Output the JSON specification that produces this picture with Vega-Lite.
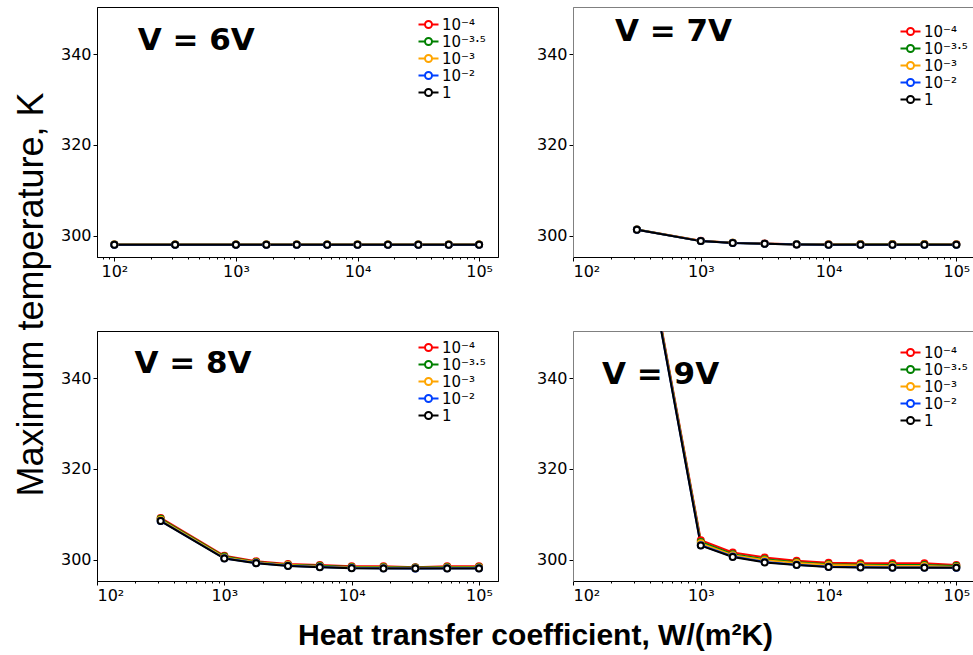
{
  "$schema": "https://vega.github.io/schema/vega-lite/v6.json",
  "padding": {"left": 12, "top": 6, "right": 0, "bottom": 0},
  "bounds": "flush",
  "columns": 2,
  "spacing": {"row": 74, "column": 75},
  "datasets": {
    "lab": [
      {"p": 6, "h": 472, "T": 342.8, "t": "V = 6V"},
      {"p": 7, "h": 612, "T": 344.8, "t": "V = 7V"},
      {"p": 8, "h": 568, "T": 343.2, "t": "V = 8V"},
      {"p": 9, "h": 485, "T": 340.7, "t": "V = 9V"}
    ],
    "d": [
      {"p":6,"s":"10⁻⁴","h":100,"T":298.05},{"p":6,"s":"10⁻⁴","h":316.2,"T":298.05},{"p":6,"s":"10⁻⁴","h":1000,"T":298.05},{"p":6,"s":"10⁻⁴","h":1778,"T":298.05},{"p":6,"s":"10⁻⁴","h":3162,"T":298.05},{"p":6,"s":"10⁻⁴","h":5623,"T":298.05},{"p":6,"s":"10⁻⁴","h":10000,"T":298.05},{"p":6,"s":"10⁻⁴","h":17783,"T":298.05},{"p":6,"s":"10⁻⁴","h":31623,"T":298.05},{"p":6,"s":"10⁻⁴","h":56234,"T":298.05},{"p":6,"s":"10⁻⁴","h":100000,"T":298.05},
      {"p":6,"s":"10⁻³·⁵","h":100,"T":298.04},{"p":6,"s":"10⁻³·⁵","h":316.2,"T":298.04},{"p":6,"s":"10⁻³·⁵","h":1000,"T":298.04},{"p":6,"s":"10⁻³·⁵","h":1778,"T":298.04},{"p":6,"s":"10⁻³·⁵","h":3162,"T":298.04},{"p":6,"s":"10⁻³·⁵","h":5623,"T":298.04},{"p":6,"s":"10⁻³·⁵","h":10000,"T":298.04},{"p":6,"s":"10⁻³·⁵","h":17783,"T":298.04},{"p":6,"s":"10⁻³·⁵","h":31623,"T":298.04},{"p":6,"s":"10⁻³·⁵","h":56234,"T":298.04},{"p":6,"s":"10⁻³·⁵","h":100000,"T":298.04},
      {"p":6,"s":"10⁻³","h":100,"T":298.03},{"p":6,"s":"10⁻³","h":316.2,"T":298.03},{"p":6,"s":"10⁻³","h":1000,"T":298.03},{"p":6,"s":"10⁻³","h":1778,"T":298.03},{"p":6,"s":"10⁻³","h":3162,"T":298.03},{"p":6,"s":"10⁻³","h":5623,"T":298.03},{"p":6,"s":"10⁻³","h":10000,"T":298.03},{"p":6,"s":"10⁻³","h":17783,"T":298.03},{"p":6,"s":"10⁻³","h":31623,"T":298.03},{"p":6,"s":"10⁻³","h":56234,"T":298.03},{"p":6,"s":"10⁻³","h":100000,"T":298.03},
      {"p":6,"s":"10⁻²","h":100,"T":298.01},{"p":6,"s":"10⁻²","h":316.2,"T":298.01},{"p":6,"s":"10⁻²","h":1000,"T":298.01},{"p":6,"s":"10⁻²","h":1778,"T":298.01},{"p":6,"s":"10⁻²","h":3162,"T":298.01},{"p":6,"s":"10⁻²","h":5623,"T":298.01},{"p":6,"s":"10⁻²","h":10000,"T":298.01},{"p":6,"s":"10⁻²","h":17783,"T":298.01},{"p":6,"s":"10⁻²","h":31623,"T":298.01},{"p":6,"s":"10⁻²","h":56234,"T":298.01},{"p":6,"s":"10⁻²","h":100000,"T":298.01},
      {"p":6,"s":"1","h":100,"T":298.0},{"p":6,"s":"1","h":316.2,"T":298.0},{"p":6,"s":"1","h":1000,"T":298.0},{"p":6,"s":"1","h":1778,"T":298.0},{"p":6,"s":"1","h":3162,"T":298.0},{"p":6,"s":"1","h":5623,"T":298.0},{"p":6,"s":"1","h":10000,"T":298.0},{"p":6,"s":"1","h":17783,"T":298.0},{"p":6,"s":"1","h":31623,"T":298.0},{"p":6,"s":"1","h":56234,"T":298.0},{"p":6,"s":"1","h":100000,"T":298.0},

      {"p":7,"s":"10⁻⁴","h":316.2,"T":301.36},{"p":7,"s":"10⁻⁴","h":1000,"T":298.86},{"p":7,"s":"10⁻⁴","h":1778,"T":298.46},{"p":7,"s":"10⁻⁴","h":3162,"T":298.26},{"p":7,"s":"10⁻⁴","h":5623,"T":298.11},{"p":7,"s":"10⁻⁴","h":10000,"T":298.1},{"p":7,"s":"10⁻⁴","h":17783,"T":298.16},{"p":7,"s":"10⁻⁴","h":31623,"T":298.16},{"p":7,"s":"10⁻⁴","h":56234,"T":298.16},{"p":7,"s":"10⁻⁴","h":100000,"T":298.1},
      {"p":7,"s":"10⁻³·⁵","h":316.2,"T":301.34},{"p":7,"s":"10⁻³·⁵","h":1000,"T":298.84},{"p":7,"s":"10⁻³·⁵","h":1778,"T":298.44},{"p":7,"s":"10⁻³·⁵","h":3162,"T":298.24},{"p":7,"s":"10⁻³·⁵","h":5623,"T":298.09},{"p":7,"s":"10⁻³·⁵","h":10000,"T":298.06},{"p":7,"s":"10⁻³·⁵","h":17783,"T":298.1},{"p":7,"s":"10⁻³·⁵","h":31623,"T":298.1},{"p":7,"s":"10⁻³·⁵","h":56234,"T":298.1},{"p":7,"s":"10⁻³·⁵","h":100000,"T":298.07},
      {"p":7,"s":"10⁻³","h":316.2,"T":301.32},{"p":7,"s":"10⁻³","h":1000,"T":298.82},{"p":7,"s":"10⁻³","h":1778,"T":298.42},{"p":7,"s":"10⁻³","h":3162,"T":298.22},{"p":7,"s":"10⁻³","h":5623,"T":298.07},{"p":7,"s":"10⁻³","h":10000,"T":298.03},{"p":7,"s":"10⁻³","h":17783,"T":298.06},{"p":7,"s":"10⁻³","h":31623,"T":298.06},{"p":7,"s":"10⁻³","h":56234,"T":298.06},{"p":7,"s":"10⁻³","h":100000,"T":298.04},
      {"p":7,"s":"10⁻²","h":316.2,"T":301.3},{"p":7,"s":"10⁻²","h":1000,"T":298.8},{"p":7,"s":"10⁻²","h":1778,"T":298.4},{"p":7,"s":"10⁻²","h":3162,"T":298.2},{"p":7,"s":"10⁻²","h":5623,"T":298.05},{"p":7,"s":"10⁻²","h":10000,"T":298.0},{"p":7,"s":"10⁻²","h":17783,"T":298.0},{"p":7,"s":"10⁻²","h":31623,"T":298.0},{"p":7,"s":"10⁻²","h":56234,"T":298.0},{"p":7,"s":"10⁻²","h":100000,"T":298.0},
      {"p":7,"s":"1","h":316.2,"T":301.3},{"p":7,"s":"1","h":1000,"T":298.8},{"p":7,"s":"1","h":1778,"T":298.4},{"p":7,"s":"1","h":3162,"T":298.2},{"p":7,"s":"1","h":5623,"T":298.05},{"p":7,"s":"1","h":10000,"T":298.0},{"p":7,"s":"1","h":17783,"T":298.0},{"p":7,"s":"1","h":31623,"T":298.0},{"p":7,"s":"1","h":56234,"T":298.0},{"p":7,"s":"1","h":100000,"T":298.0},

      {"p":8,"s":"10⁻⁴","h":316.2,"T":309.2},{"p":8,"s":"10⁻⁴","h":1000,"T":300.85},{"p":8,"s":"10⁻⁴","h":1778,"T":299.65},{"p":8,"s":"10⁻⁴","h":3162,"T":299.05},{"p":8,"s":"10⁻⁴","h":5623,"T":298.8},{"p":8,"s":"10⁻⁴","h":10000,"T":298.55},{"p":8,"s":"10⁻⁴","h":17783,"T":298.55},{"p":8,"s":"10⁻⁴","h":31623,"T":298.35},{"p":8,"s":"10⁻⁴","h":56234,"T":298.55},{"p":8,"s":"10⁻⁴","h":100000,"T":298.55},
      {"p":8,"s":"10⁻³·⁵","h":316.2,"T":309.0},{"p":8,"s":"10⁻³·⁵","h":1000,"T":300.7},{"p":8,"s":"10⁻³·⁵","h":1778,"T":299.5},{"p":8,"s":"10⁻³·⁵","h":3162,"T":298.9},{"p":8,"s":"10⁻³·⁵","h":5623,"T":298.65},{"p":8,"s":"10⁻³·⁵","h":10000,"T":298.4},{"p":8,"s":"10⁻³·⁵","h":17783,"T":298.4},{"p":8,"s":"10⁻³·⁵","h":31623,"T":298.25},{"p":8,"s":"10⁻³·⁵","h":56234,"T":298.4},{"p":8,"s":"10⁻³·⁵","h":100000,"T":298.4},
      {"p":8,"s":"10⁻³","h":316.2,"T":308.8},{"p":8,"s":"10⁻³","h":1000,"T":300.5},{"p":8,"s":"10⁻³","h":1778,"T":299.4},{"p":8,"s":"10⁻³","h":3162,"T":298.8},{"p":8,"s":"10⁻³","h":5623,"T":298.5},{"p":8,"s":"10⁻³","h":10000,"T":298.3},{"p":8,"s":"10⁻³","h":17783,"T":298.25},{"p":8,"s":"10⁻³","h":31623,"T":298.15},{"p":8,"s":"10⁻³","h":56234,"T":298.25},{"p":8,"s":"10⁻³","h":100000,"T":298.25},
      {"p":8,"s":"10⁻²","h":316.2,"T":308.55},{"p":8,"s":"10⁻²","h":1000,"T":300.3},{"p":8,"s":"10⁻²","h":1778,"T":299.25},{"p":8,"s":"10⁻²","h":3162,"T":298.65},{"p":8,"s":"10⁻²","h":5623,"T":298.4},{"p":8,"s":"10⁻²","h":10000,"T":298.15},{"p":8,"s":"10⁻²","h":17783,"T":298.1},{"p":8,"s":"10⁻²","h":31623,"T":298.05},{"p":8,"s":"10⁻²","h":56234,"T":298.1},{"p":8,"s":"10⁻²","h":100000,"T":298.1},
      {"p":8,"s":"1","h":316.2,"T":308.5},{"p":8,"s":"1","h":1000,"T":300.26},{"p":8,"s":"1","h":1778,"T":299.2},{"p":8,"s":"1","h":3162,"T":298.6},{"p":8,"s":"1","h":5623,"T":298.35},{"p":8,"s":"1","h":10000,"T":298.1},{"p":8,"s":"1","h":17783,"T":298.05},{"p":8,"s":"1","h":31623,"T":298.05},{"p":8,"s":"1","h":56234,"T":298.05},{"p":8,"s":"1","h":100000,"T":298.05},

      {"p":9,"s":"10⁻⁴","h":316.2,"T":380.5},{"p":9,"s":"10⁻⁴","h":1000,"T":304.3},{"p":9,"s":"10⁻⁴","h":1778,"T":301.6},{"p":9,"s":"10⁻⁴","h":3162,"T":300.5},{"p":9,"s":"10⁻⁴","h":5623,"T":299.75},{"p":9,"s":"10⁻⁴","h":10000,"T":299.3},{"p":9,"s":"10⁻⁴","h":17783,"T":299.2},{"p":9,"s":"10⁻⁴","h":31623,"T":299.2},{"p":9,"s":"10⁻⁴","h":56234,"T":299.2},{"p":9,"s":"10⁻⁴","h":100000,"T":298.85},
      {"p":9,"s":"10⁻³·⁵","h":316.2,"T":380.2},{"p":9,"s":"10⁻³·⁵","h":1000,"T":303.9},{"p":9,"s":"10⁻³·⁵","h":1778,"T":301.2},{"p":9,"s":"10⁻³·⁵","h":3162,"T":300.1},{"p":9,"s":"10⁻³·⁵","h":5623,"T":299.45},{"p":9,"s":"10⁻³·⁵","h":10000,"T":299.0},{"p":9,"s":"10⁻³·⁵","h":17783,"T":298.9},{"p":9,"s":"10⁻³·⁵","h":31623,"T":298.85},{"p":9,"s":"10⁻³·⁵","h":56234,"T":298.85},{"p":9,"s":"10⁻³·⁵","h":100000,"T":298.6},
      {"p":9,"s":"10⁻³","h":316.2,"T":380.0},{"p":9,"s":"10⁻³","h":1000,"T":303.6},{"p":9,"s":"10⁻³","h":1778,"T":301.0},{"p":9,"s":"10⁻³","h":3162,"T":299.9},{"p":9,"s":"10⁻³","h":5623,"T":299.25},{"p":9,"s":"10⁻³","h":10000,"T":298.8},{"p":9,"s":"10⁻³","h":17783,"T":298.7},{"p":9,"s":"10⁻³","h":31623,"T":298.6},{"p":9,"s":"10⁻³","h":56234,"T":298.6},{"p":9,"s":"10⁻³","h":100000,"T":298.4},
      {"p":9,"s":"10⁻²","h":316.2,"T":379.7},{"p":9,"s":"10⁻²","h":1000,"T":303.2},{"p":9,"s":"10⁻²","h":1778,"T":300.7},{"p":9,"s":"10⁻²","h":3162,"T":299.5},{"p":9,"s":"10⁻²","h":5623,"T":298.9},{"p":9,"s":"10⁻²","h":10000,"T":298.45},{"p":9,"s":"10⁻²","h":17783,"T":298.35},{"p":9,"s":"10⁻²","h":31623,"T":298.25},{"p":9,"s":"10⁻²","h":56234,"T":298.25},{"p":9,"s":"10⁻²","h":100000,"T":298.2},
      {"p":9,"s":"1","h":316.2,"T":379.6},{"p":9,"s":"1","h":1000,"T":303.1},{"p":9,"s":"1","h":1778,"T":300.6},{"p":9,"s":"1","h":3162,"T":299.4},{"p":9,"s":"1","h":5623,"T":298.85},{"p":9,"s":"1","h":10000,"T":298.4},{"p":9,"s":"1","h":17783,"T":298.3},{"p":9,"s":"1","h":31623,"T":298.2},{"p":9,"s":"1","h":56234,"T":298.2},{"p":9,"s":"1","h":100000,"T":298.2}
    ]
  },
  "concat": [
    {
      "width": 401, "height": 250,
      "view": {"stroke": "black"},
      "encoding": {
        "y": {"field": "T", "type": "quantitative", "scale": {"domain": [295.3, 350.4], "zero": false, "nice": false},
          "axis": {"values": [300, 320, 340], "title": "Maximum temperature, K", "titleX": -55, "titleY": 287, "titleAngle": 270, "titleAlign": "center", "titleBaseline": "alphabetic", "titleFont": "Liberation Sans", "titleFontSize": 36, "titleFontWeight": "normal", "titleColor": "black"}}
      },
      "layer": [
        {"data": {"name": "d"}, "transform": [{"filter": "datum.p == 6"}],
         "mark": {"type": "line", "clip": true, "strokeWidth": 2},
         "encoding": {
           "x": {"field": "h", "type": "quantitative", "scale": {"type": "log", "domain": [72, 143000], "nice": false},
             "axis": {"orient": "bottom", "values": [100, 1000, 10000, 100000], "labelExpr": "datum.value == 100 ? '10²' : datum.value == 1000 ? '10³' : datum.value == 10000 ? '10⁴' : '10⁵'", "title": null}},
           "color": {"field": "s", "type": "nominal", "scale": {"domain": ["10⁻⁴", "10⁻³·⁵", "10⁻³", "10⁻²", "1"], "range": ["#ff0000", "#008000", "#ffa500", "#0040ff", "#000000"]},
             "legend": {"orient": "none", "legendX": 324, "legendY": 10}}
         }},
        {"data": {"name": "d"}, "transform": [{"filter": "datum.p == 6"}],
         "mark": {"type": "point", "clip": true, "filled": false, "fill": "white", "size": 36, "strokeWidth": 2, "opacity": 1},
         "encoding": {
           "x": {"field": "h", "type": "quantitative", "scale": {"type": "log", "domain": [72, 143000], "nice": false},
             "axis": {"orient": "bottom", "values": [80, 90, 200, 300, 400, 500, 600, 700, 800, 900, 2000, 3000, 4000, 5000, 6000, 7000, 8000, 9000, 20000, 30000, 40000, 50000, 60000, 70000, 80000, 90000], "labels": false, "domain": false, "tickSize": 2, "title": null}},
           "color": {"field": "s", "type": "nominal", "scale": {"domain": ["10⁻⁴", "10⁻³·⁵", "10⁻³", "10⁻²", "1"], "range": ["#ff0000", "#008000", "#ffa500", "#0040ff", "#000000"]},
             "legend": {"orient": "none", "legendX": 324, "legendY": 10}}
         }},
        {"data": {"name": "lab"}, "transform": [{"filter": "datum.p == 6"}],
         "mark": {"type": "text", "font": "DejaVu Sans", "fontSize": 31, "fontWeight": "bold", "baseline": "middle", "align": "center", "color": "black"},
         "encoding": {
           "x": {"field": "h", "type": "quantitative", "scale": {"type": "log", "domain": [72, 143000], "nice": false}, "axis": null},
           "text": {"field": "t"}
         }}
      ],
      "resolve": {"axis": {"x": "independent"}}
    },
    {
      "width": 400, "height": 250,
      "view": {"stroke": "#808080"},
      "encoding": {
        "y": {"field": "T", "type": "quantitative", "scale": {"domain": [295.3, 350.4], "zero": false, "nice": false},
          "axis": {"values": [300, 320, 340], "title": null, "domainColor": "#808080"}}
      },
      "layer": [
        {"data": {"name": "d"}, "transform": [{"filter": "datum.p == 7"}],
         "mark": {"type": "line", "clip": true, "strokeWidth": 2},
         "encoding": {
           "x": {"field": "h", "type": "quantitative", "scale": {"type": "log", "domain": [100, 135000], "nice": false},
             "axis": {"orient": "bottom", "values": [100, 1000, 10000, 100000], "labelExpr": "datum.value == 100 ? '10²' : datum.value == 1000 ? '10³' : datum.value == 10000 ? '10⁴' : '10⁵'", "title": null}},
           "color": {"field": "s", "type": "nominal", "scale": {"domain": ["10⁻⁴", "10⁻³·⁵", "10⁻³", "10⁻²", "1"], "range": ["#ff0000", "#008000", "#ffa500", "#0040ff", "#000000"]},
             "legend": {"orient": "none", "legendX": 330, "legendY": 17}}
         }},
        {"data": {"name": "d"}, "transform": [{"filter": "datum.p == 7"}],
         "mark": {"type": "point", "clip": true, "filled": false, "fill": "white", "size": 36, "strokeWidth": 2, "opacity": 1},
         "encoding": {
           "x": {"field": "h", "type": "quantitative", "scale": {"type": "log", "domain": [100, 135000], "nice": false},
             "axis": {"orient": "bottom", "values": [200, 300, 400, 500, 600, 700, 800, 900, 2000, 3000, 4000, 5000, 6000, 7000, 8000, 9000, 20000, 30000, 40000, 50000, 60000, 70000, 80000, 90000], "labels": false, "domain": false, "tickSize": 2, "title": null}},
           "color": {"field": "s", "type": "nominal", "scale": {"domain": ["10⁻⁴", "10⁻³·⁵", "10⁻³", "10⁻²", "1"], "range": ["#ff0000", "#008000", "#ffa500", "#0040ff", "#000000"]},
             "legend": {"orient": "none", "legendX": 330, "legendY": 17}}
         }},
        {"data": {"name": "lab"}, "transform": [{"filter": "datum.p == 7"}],
         "mark": {"type": "text", "font": "DejaVu Sans", "fontSize": 31, "fontWeight": "bold", "baseline": "middle", "align": "center", "color": "black"},
         "encoding": {
           "x": {"field": "h", "type": "quantitative", "scale": {"type": "log", "domain": [100, 135000], "nice": false}, "axis": null},
           "text": {"field": "t"}
         }}
      ],
      "resolve": {"axis": {"x": "independent"}}
    },
    {
      "width": 401, "height": 250,
      "view": {"stroke": "black"},
      "encoding": {
        "y": {"field": "T", "type": "quantitative", "scale": {"domain": [295.3, 350.4], "zero": false, "nice": false},
          "axis": {"values": [300, 320, 340], "title": null}}
      },
      "layer": [
        {"data": {"name": "d"}, "transform": [{"filter": "datum.p == 8"}],
         "mark": {"type": "line", "clip": true, "strokeWidth": 2},
         "encoding": {
           "x": {"field": "h", "type": "quantitative", "scale": {"type": "log", "domain": [100, 141000], "nice": false},
             "axis": {"orient": "bottom", "values": [100, 1000, 10000, 100000], "labelExpr": "datum.value == 100 ? '10²' : datum.value == 1000 ? '10³' : datum.value == 10000 ? '10⁴' : '10⁵'",
               "title": "Heat transfer coefficient, W/(m²K)", "titleX": 438, "titleY": 63, "titleAlign": "center", "titleBaseline": "alphabetic", "titleFont": "Liberation Sans", "titleFontSize": 30, "titleFontWeight": "bold", "titleColor": "black"}},
           "color": {"field": "s", "type": "nominal", "scale": {"domain": ["10⁻⁴", "10⁻³·⁵", "10⁻³", "10⁻²", "1"], "range": ["#ff0000", "#008000", "#ffa500", "#0040ff", "#000000"]},
             "legend": {"orient": "none", "legendX": 324, "legendY": 9}}
         }},
        {"data": {"name": "d"}, "transform": [{"filter": "datum.p == 8"}],
         "mark": {"type": "point", "clip": true, "filled": false, "fill": "white", "size": 36, "strokeWidth": 2, "opacity": 1},
         "encoding": {
           "x": {"field": "h", "type": "quantitative", "scale": {"type": "log", "domain": [100, 141000], "nice": false},
             "axis": {"orient": "bottom", "values": [200, 300, 400, 500, 600, 700, 800, 900, 2000, 3000, 4000, 5000, 6000, 7000, 8000, 9000, 20000, 30000, 40000, 50000, 60000, 70000, 80000, 90000], "labels": false, "domain": false, "tickSize": 2, "title": null}},
           "color": {"field": "s", "type": "nominal", "scale": {"domain": ["10⁻⁴", "10⁻³·⁵", "10⁻³", "10⁻²", "1"], "range": ["#ff0000", "#008000", "#ffa500", "#0040ff", "#000000"]},
             "legend": {"orient": "none", "legendX": 324, "legendY": 9}}
         }},
        {"data": {"name": "lab"}, "transform": [{"filter": "datum.p == 8"}],
         "mark": {"type": "text", "font": "DejaVu Sans", "fontSize": 31, "fontWeight": "bold", "baseline": "middle", "align": "center", "color": "black"},
         "encoding": {
           "x": {"field": "h", "type": "quantitative", "scale": {"type": "log", "domain": [100, 141000], "nice": false}, "axis": null},
           "text": {"field": "t"}
         }}
      ],
      "resolve": {"axis": {"x": "independent"}}
    },
    {
      "width": 400, "height": 250,
      "view": {"stroke": "#808080"},
      "encoding": {
        "y": {"field": "T", "type": "quantitative", "scale": {"domain": [295.3, 350.4], "zero": false, "nice": false},
          "axis": {"values": [300, 320, 340], "title": null, "domainColor": "#808080"}}
      },
      "layer": [
        {"data": {"name": "d"}, "transform": [{"filter": "datum.p == 9"}],
         "mark": {"type": "line", "clip": true, "strokeWidth": 2},
         "encoding": {
           "x": {"field": "h", "type": "quantitative", "scale": {"type": "log", "domain": [100, 135000], "nice": false},
             "axis": {"orient": "bottom", "values": [100, 1000, 10000, 100000], "labelExpr": "datum.value == 100 ? '10²' : datum.value == 1000 ? '10³' : datum.value == 10000 ? '10⁴' : '10⁵'", "title": null}},
           "color": {"field": "s", "type": "nominal", "scale": {"domain": ["10⁻⁴", "10⁻³·⁵", "10⁻³", "10⁻²", "1"], "range": ["#ff0000", "#008000", "#ffa500", "#0040ff", "#000000"]},
             "legend": {"orient": "none", "legendX": 330, "legendY": 14}}
         }},
        {"data": {"name": "d"}, "transform": [{"filter": "datum.p == 9"}],
         "mark": {"type": "point", "clip": true, "filled": false, "fill": "white", "size": 36, "strokeWidth": 2, "opacity": 1},
         "encoding": {
           "x": {"field": "h", "type": "quantitative", "scale": {"type": "log", "domain": [100, 135000], "nice": false},
             "axis": {"orient": "bottom", "values": [200, 300, 400, 500, 600, 700, 800, 900, 2000, 3000, 4000, 5000, 6000, 7000, 8000, 9000, 20000, 30000, 40000, 50000, 60000, 70000, 80000, 90000], "labels": false, "domain": false, "tickSize": 2, "title": null}},
           "color": {"field": "s", "type": "nominal", "scale": {"domain": ["10⁻⁴", "10⁻³·⁵", "10⁻³", "10⁻²", "1"], "range": ["#ff0000", "#008000", "#ffa500", "#0040ff", "#000000"]},
             "legend": {"orient": "none", "legendX": 330, "legendY": 14}}
         }},
        {"data": {"name": "lab"}, "transform": [{"filter": "datum.p == 9"}],
         "mark": {"type": "text", "font": "DejaVu Sans", "fontSize": 31, "fontWeight": "bold", "baseline": "middle", "align": "center", "color": "black"},
         "encoding": {
           "x": {"field": "h", "type": "quantitative", "scale": {"type": "log", "domain": [100, 135000], "nice": false}, "axis": null},
           "text": {"field": "t"}
         }}
      ],
      "resolve": {"axis": {"x": "independent"}}
    }
  ],
  "resolve": {"scale": {"color": "independent"}, "legend": {"color": "independent"}},
  "config": {
    "background": "white",
    "view": {"stroke": "black", "strokeWidth": 1},
    "axis": {"grid": false, "labelFont": "DejaVu Sans", "labelFontSize": 16, "labelColor": "black", "tickColor": "black", "domainColor": "black", "tickSize": 4, "labelPadding": 2, "tickWidth": 1, "domainWidth": 1},
    "legend": {"title": null, "symbolType": "M-2,0H-0.7M0.7,0H2M-0.7,0A0.7,0.7 0 1,0 0.7,0A0.7,0.7 0 1,0 -0.7,0", "symbolSize": 100, "symbolStrokeWidth": 2, "symbolFillColor": "white", "labelOffset": 6, "rowPadding": 1, "padding": 0, "labelFont": "DejaVu Sans", "labelFontSize": 15, "labelColor": "black"}
  }
}
